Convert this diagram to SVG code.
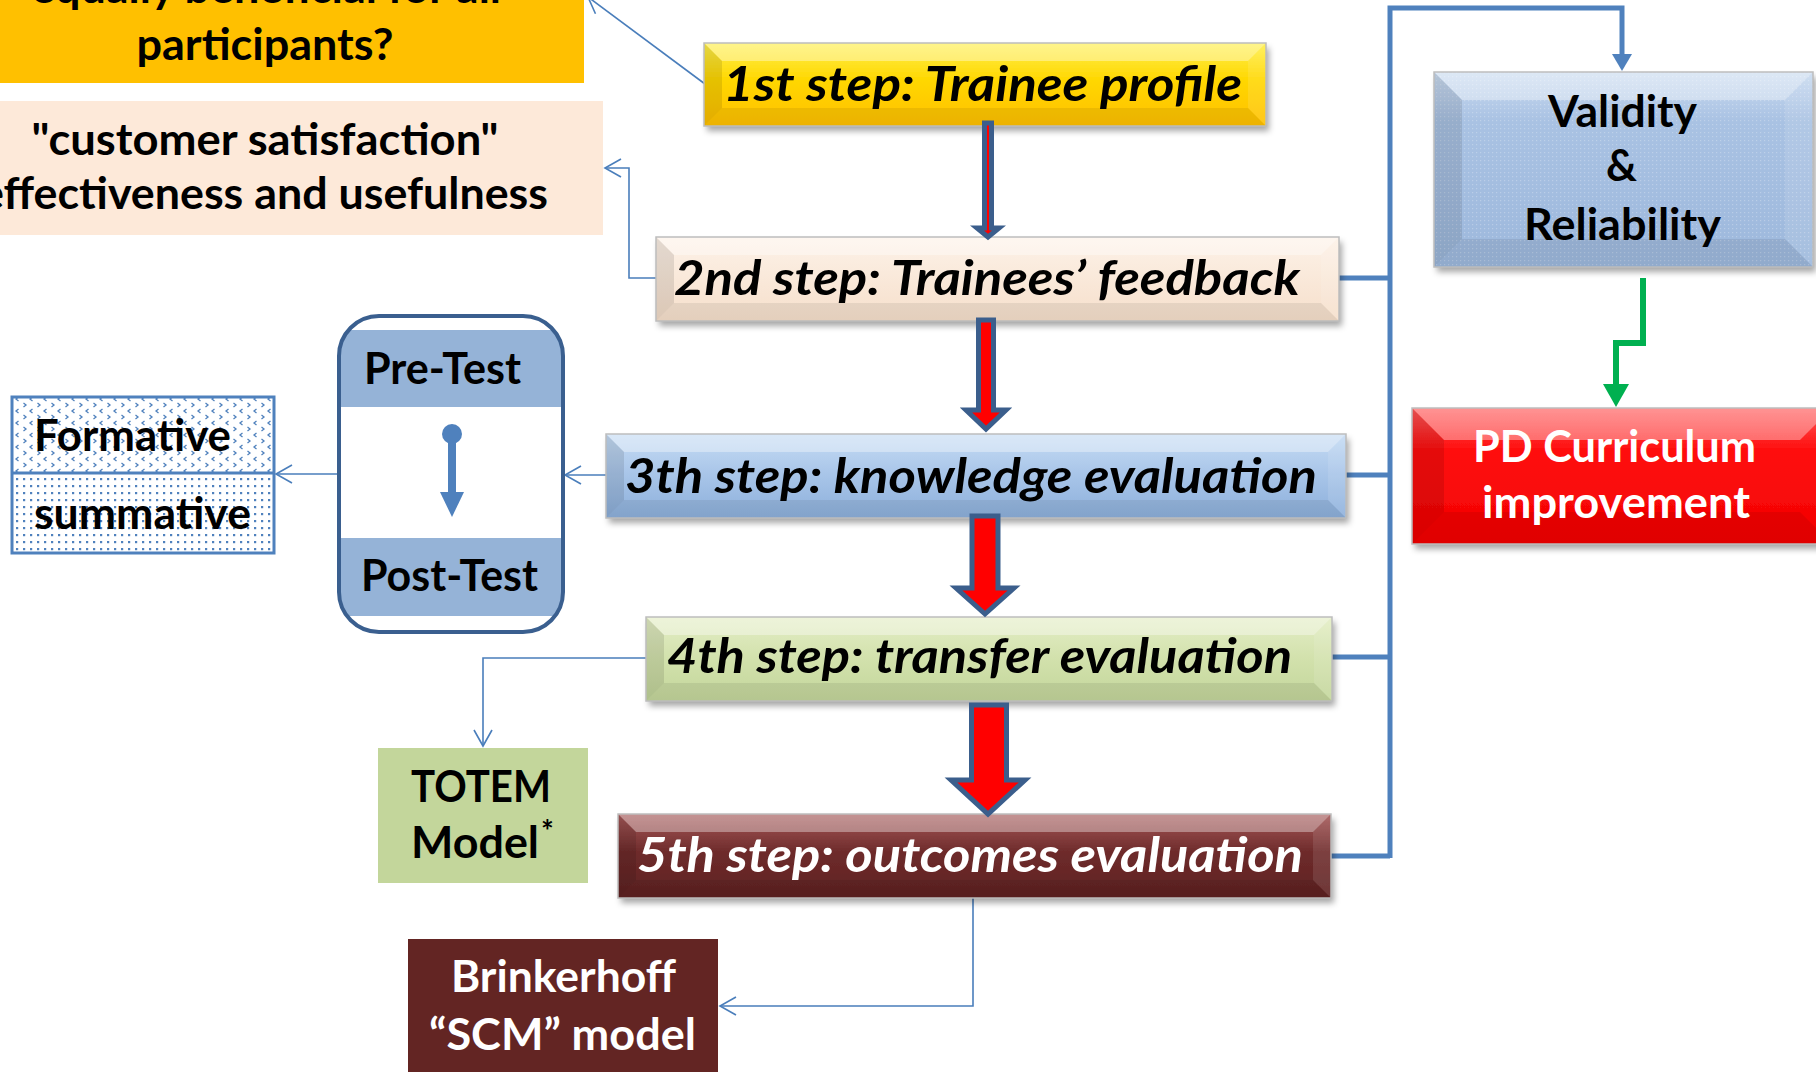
<svg xmlns="http://www.w3.org/2000/svg" width="1816" height="1072" viewBox="0 0 1816 1072">
<defs>
<style>
text{font-family:Lato,"Liberation Sans",sans-serif;font-weight:bold;fill:#000}
.st{font-size:47px;font-style:italic}
.lb{font-size:43px}
.w{fill:#fff}
.bt{fill:#fff;opacity:.35}
.bl{fill:#000;opacity:.10}
.br{fill:#fff;opacity:.10}
.bb{fill:#000;opacity:.07}
.edge{fill:none;stroke:#BDBDBD;stroke-width:1.5}
.thin{fill:none;stroke:#4A7EBB;stroke-width:1.6}
.bus{fill:none;stroke:#4F81BD;stroke-width:5}
.blk{fill:#FF0000;stroke:#3B5E8C;stroke-width:5;stroke-linejoin:miter}
</style>
<filter id="sh" x="-5%" y="-20%" width="110%" height="150%">
<feDropShadow dx="3" dy="5" stdDeviation="3" flood-color="#000" flood-opacity="0.35"/>
</filter>
<marker id="oa" markerUnits="userSpaceOnUse" markerWidth="20" markerHeight="20" viewBox="0 0 20 20" refX="18" refY="10" orient="auto">
<path d="M2,1 L18,10 L2,19" fill="none" stroke="#4A7EBB" stroke-width="1.6"/>
</marker>
<linearGradient id="gY" x1="0" y1="0" x2="0" y2="1"><stop offset="0" stop-color="#FFF04D"/><stop offset="0.45" stop-color="#FFD700"/><stop offset="1" stop-color="#FFC000"/></linearGradient>
<linearGradient id="gP" x1="0" y1="0" x2="0" y2="1"><stop offset="0" stop-color="#FDF2E8"/><stop offset="1" stop-color="#F6DFCB"/></linearGradient>
<linearGradient id="gB" x1="0" y1="0" x2="0" y2="1"><stop offset="0" stop-color="#C6DCF4"/><stop offset="0.5" stop-color="#A7C4E8"/><stop offset="1" stop-color="#8DB0DB"/></linearGradient>
<linearGradient id="gG" x1="0" y1="0" x2="0" y2="1"><stop offset="0" stop-color="#E4EEC6"/><stop offset="0.5" stop-color="#D2E1AC"/><stop offset="1" stop-color="#C3D69B"/></linearGradient>
<linearGradient id="gR" x1="0" y1="0" x2="0" y2="1"><stop offset="0" stop-color="#A65A5A"/><stop offset="0.45" stop-color="#6E2B2B"/><stop offset="1" stop-color="#5E2222"/></linearGradient>
<linearGradient id="gV" x1="0" y1="0" x2="0" y2="1"><stop offset="0" stop-color="#CADBF0"/><stop offset="0.25" stop-color="#A9C2E3"/><stop offset="1" stop-color="#9DB8DC"/></linearGradient>
<linearGradient id="gPD" x1="0" y1="0" x2="0" y2="1"><stop offset="0" stop-color="#FF5A5A"/><stop offset="0.3" stop-color="#FF1010"/><stop offset="1" stop-color="#F20000"/></linearGradient>
<pattern id="pTop" width="14" height="12" patternUnits="userSpaceOnUse">
<rect width="14" height="12" fill="#fff"/>
<path d="M4.5,1 L2,3 L4.5,5 M9.5,7 L12,9 L9.5,11" fill="none" stroke="#4F81BD" stroke-width="1.3"/>
</pattern>
<pattern id="pDot" width="7" height="7" patternUnits="userSpaceOnUse">
<rect width="7" height="7" fill="#fff"/>
<rect x="2" y="2" width="2.2" height="2.2" fill="#4F81BD"/>
</pattern>
<pattern id="pTex" width="4" height="4" patternUnits="userSpaceOnUse">
<rect x="0" y="0" width="1.2" height="1.2" fill="#fff" opacity="0.25"/>
</pattern>
<clipPath id="cPT"><rect x="339" y="316" width="224" height="316" rx="40" ry="40"/></clipPath>
</defs>

<g id="connectors">
<polyline class="thin" points="705,84 588,-3" marker-end="url(#oa)"/>
<polyline class="thin" points="656,278 629,278 629,168 605,168" marker-end="url(#oa)"/>
<polyline class="thin" points="606,475 565,475" marker-end="url(#oa)"/>
<polyline class="thin" points="339,474 276,474" marker-end="url(#oa)"/>
<polyline class="thin" points="646,658 483,658 483,746" marker-end="url(#oa)"/>
<polyline class="thin" points="973,898 973,1006 720,1006" marker-end="url(#oa)"/>
<path class="bus" d="M1339,278 H1390 M1346,475 H1390 M1332,657 H1390 M1331,856 H1390 M1390,858 V8 H1622 V56"/>
<polygon points="1612,54 1632,54 1622,71" fill="#4F81BD"/>
<path d="M1643,278 V343 H1616 V386" fill="none" stroke="#00B050" stroke-width="6"/>
<polygon points="1603,384 1629,384 1616,407" fill="#00B050"/>
</g>

<g id="equally">
<rect x="-5" y="-10" width="589" height="93" fill="#FFC000"/>
<text class="lb" x="266" y="3" text-anchor="middle" textLength="470" lengthAdjust="spacingAndGlyphs">equally beneficial for all</text>
<text class="lb" x="265" y="60" text-anchor="middle" textLength="257" lengthAdjust="spacingAndGlyphs">participants?</text>
</g>

<g id="satisfaction">
<rect x="-5" y="101" width="608" height="134" fill="#FDE9D9"/>
<text class="lb" x="265" y="155" text-anchor="middle" textLength="467" lengthAdjust="spacingAndGlyphs">"customer satisfaction"</text>
<text class="lb" x="-20" y="209" textLength="568" lengthAdjust="spacingAndGlyphs">effectiveness and usefulness</text>
</g>

<g id="step1">
<rect x="704" y="43" width="562" height="83" fill="url(#gY)" filter="url(#sh)"/>
<polygon class="bt" points="704,43 1266,43 1248,61 722,61"/>
<polygon class="bl" points="704,43 722,61 722,108 704,126"/>
<polygon class="br" points="1266,43 1266,126 1248,108 1248,61"/>
<polygon class="bb" points="704,126 722,108 1248,108 1266,126"/>
<rect class="edge" x="704" y="43" width="562" height="83"/>
<text class="st" x="723" y="101" textLength="519" lengthAdjust="spacingAndGlyphs">1st step: Trainee profile</text>
</g>

<g id="step2">
<rect x="656" y="237" width="683" height="84" fill="url(#gP)" filter="url(#sh)"/>
<polygon class="bt" points="656,237 1339,237 1321,255 674,255"/>
<polygon class="bl" points="656,237 674,255 674,303 656,321"/>
<polygon class="br" points="1339,237 1339,321 1321,303 1321,255"/>
<polygon class="bb" points="656,321 674,303 1321,303 1339,321"/>
<rect class="edge" x="656" y="237" width="683" height="84"/>
<text class="st" x="674" y="295" textLength="626" lengthAdjust="spacingAndGlyphs">2nd step: Trainees’ feedback</text>
</g>

<g id="step3">
<rect x="606" y="434" width="740" height="84" fill="url(#gB)" filter="url(#sh)"/>
<polygon class="bt" points="606,434 1346,434 1328,452 624,452"/>
<polygon class="bl" points="606,434 624,452 624,500 606,518"/>
<polygon class="br" points="1346,434 1346,518 1328,500 1328,452"/>
<polygon class="bb" points="606,518 624,500 1328,500 1346,518"/>
<rect class="edge" x="606" y="434" width="740" height="84"/>
<text class="st" x="625" y="493" textLength="692" lengthAdjust="spacingAndGlyphs">3th step: knowledge evaluation</text>
</g>

<g id="step4">
<rect x="646" y="617" width="686" height="84" fill="url(#gG)" filter="url(#sh)"/>
<polygon class="bt" points="646,617 1332,617 1314,635 664,635"/>
<polygon class="bl" points="646,617 664,635 664,683 646,701"/>
<polygon class="br" points="1332,617 1332,701 1314,683 1314,635"/>
<polygon class="bb" points="646,701 664,683 1314,683 1332,701"/>
<rect class="edge" x="646" y="617" width="686" height="84"/>
<text class="st" x="667" y="673" textLength="625" lengthAdjust="spacingAndGlyphs">4th step: transfer evaluation</text>
</g>

<g id="step5">
<rect x="618" y="814" width="713" height="84" fill="url(#gR)" filter="url(#sh)"/>
<polygon class="bt" points="618,814 1331,814 1313,832 636,832" opacity="0.25"/>
<polygon class="bl" points="618,814 636,832 636,880 618,898"/>
<polygon class="br" points="1331,814 1331,898 1313,880 1313,832"/>
<polygon class="bb" points="618,898 636,880 1313,880 1331,898"/>
<rect class="edge" x="618" y="814" width="713" height="84"/>
<text class="st w" x="637" y="872" textLength="666" lengthAdjust="spacingAndGlyphs">5th step: outcomes evaluation</text>
</g>

<g id="arrows">
<polygon class="blk" points="984.5,123 991.5,123 991.5,228 999,228 988,237 977,228 984.5,228"/>
<polygon class="blk" points="978.5,320 993.5,320 993.5,410 1006,410 986,429 966,410 978.5,410"/>
<polygon class="blk" points="972,516 998,516 998,588 1014,588 985,614 956,588 972,588"/>
<polygon class="blk" points="971.5,705 1006.5,705 1006.5,780 1025,780 988,814 951,780 971.5,780"/>
</g>

<g id="validity">
<rect x="1434" y="72" width="379" height="195" fill="url(#gV)" filter="url(#sh)"/>
<rect x="1434" y="72" width="379" height="195" fill="url(#pTex)"/>
<polygon class="bt" points="1434,72 1813,72 1785,100 1462,100"/>
<polygon class="bl" points="1434,72 1462,100 1462,239 1434,267"/>
<polygon class="br" points="1813,72 1813,267 1785,239 1785,100"/>
<polygon class="bb" points="1434,267 1462,239 1785,239 1813,267"/>
<rect class="edge" x="1434" y="72" width="379" height="195"/>
<text x="1548" y="127" font-size="44" textLength="149" lengthAdjust="spacingAndGlyphs">Validity</text>
<text x="1606" y="181" font-size="44" textLength="31" lengthAdjust="spacingAndGlyphs">&amp;</text>
<text x="1524" y="240" font-size="44" textLength="197" lengthAdjust="spacingAndGlyphs">Reliability</text>
</g>

<g id="pd">
<rect x="1412" y="408" width="420" height="136" fill="url(#gPD)" filter="url(#sh)"/>
<polygon class="bt" points="1412,408 1832,408 1800,440 1444,440" opacity="0.2"/>
<polygon class="bl" points="1412,408 1444,440 1444,512 1412,544"/>
<polygon class="bb" points="1412,544 1444,512 1800,512 1832,544"/>
<rect class="edge" x="1412" y="408" width="420" height="136"/>
<text class="w" x="1473" y="462" font-size="43" textLength="283" lengthAdjust="spacingAndGlyphs">PD Curriculum</text>
<text class="w" x="1482" y="518" font-size="43" textLength="268" lengthAdjust="spacingAndGlyphs">improvement</text>
</g>

<g id="prepost">
<rect x="339" y="316" width="224" height="316" rx="40" ry="40" fill="#fff"/>
<g clip-path="url(#cPT)">
<rect x="339" y="330" width="224" height="77" fill="#95B3D7"/>
<rect x="339" y="538" width="224" height="78" fill="#95B3D7"/>
</g>
<rect x="339" y="316" width="224" height="316" rx="40" ry="40" fill="none" stroke="#3A5F8F" stroke-width="4"/>
<text class="lb" x="364" y="384" textLength="157" lengthAdjust="spacingAndGlyphs">Pre-Test</text>
<text class="lb" x="361" y="591" textLength="177" lengthAdjust="spacingAndGlyphs">Post-Test</text>
<circle cx="452" cy="434" r="10" fill="#4F81BD"/>
<rect x="448" y="434" width="8" height="60" fill="#4F81BD"/>
<polygon points="440,492 464,492 452,517" fill="#4F81BD"/>
</g>

<g id="formative">
<rect x="12" y="397" width="262" height="76" fill="url(#pTop)"/>
<rect x="12" y="473" width="262" height="80" fill="url(#pDot)"/>
<rect x="12" y="397" width="262" height="156" fill="none" stroke="#4F81BD" stroke-width="3"/>
<line x1="12" y1="473" x2="274" y2="473" stroke="#4F81BD" stroke-width="3"/>
<text class="lb" x="34" y="451" textLength="197" lengthAdjust="spacingAndGlyphs">Formative</text>
<text class="lb" x="34" y="529" textLength="217" lengthAdjust="spacingAndGlyphs">summative</text>
</g>

<g id="totem">
<rect x="378" y="748" width="210" height="135" fill="#C3D69B"/>
<text class="lb" x="411" y="802" textLength="140" lengthAdjust="spacingAndGlyphs">TOTEM</text>
<text class="lb" x="411" y="858" textLength="128" lengthAdjust="spacingAndGlyphs">Model</text>
<text x="541" y="842" font-size="30">*</text>
</g>

<g id="brinkerhoff">
<rect x="408" y="939" width="310" height="140" fill="#632523"/>
<text class="lb w" x="451" y="992" textLength="225" lengthAdjust="spacingAndGlyphs">Brinkerhoff</text>
<text class="lb w" x="429" y="1050" textLength="267" lengthAdjust="spacingAndGlyphs">“SCM” model</text>
</g>
</svg>
